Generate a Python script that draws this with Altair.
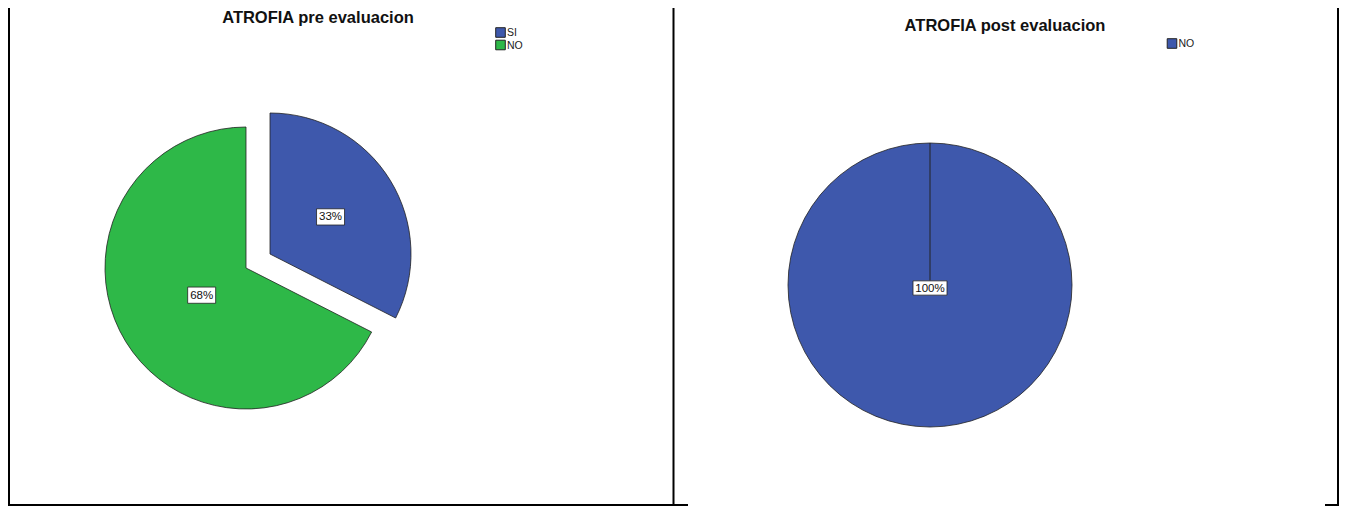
import altair as alt
import pandas as pd

# ---------------- data ----------------
PRE_CATS = ["SI", "NO"]
PRE_COUNTS = [13, 27]
PRE_LABELS = ["33%", "68%"]
PRE_COLORS = ["#3E58AC", "#2EB848"]

POST_CATS = ["NO"]
POST_COUNTS = [40]
POST_LABELS = ["100%"]
POST_COLORS = ["#3E58AC"]

TITLES = ["ATROFIA pre evaluacion", "ATROFIA post evaluacion"]

# ---------------- layout / style ----------------
W, H = 1331, 498
PRE_CX, PRE_CY, PRE_R = 238, 260, 141
EXP_DX, EXP_DY = 24, -14
POST_CX, POST_CY, POST_R = 922, 277, 142
PRE_LEG = (492.5, 24.5)
POST_LEG = (1164, 35.5)
LEG_STEP = 12.5
FONT = "Liberation Sans"
EDGE = "#222222"
BOX_SMALL = "M-1,-0.58L1,-0.58L1,0.58L-1,0.58Z"
BOX_WIDE = "M-1,-0.42L1,-0.42L1,0.42L-1,0.42Z"

pre_df = pd.DataFrame({"cat": PRE_CATS, "count": PRE_COUNTS,
                       "label": PRE_LABELS, "order": list(range(len(PRE_CATS)))})
post_df = pd.DataFrame({"cat": POST_CATS, "count": POST_COUNTS,
                        "label": POST_LABELS, "order": list(range(len(POST_CATS)))})
one = pd.DataFrame({"k": [0]})

theta_scale = alt.Scale(domain=[0, 1], range=[0, 6.283185307179586])


def slices(df):
    return (alt.Chart(df)
            .transform_joinaggregate(total="sum(count)")
            .transform_window(cum="sum(count)", sort=[alt.SortField("order")], frame=[None, 0])
            .transform_calculate(f0="(datum.cum - datum.count) / datum.total",
                                 f1="datum.cum / datum.total",
                                 fm="(datum.cum - datum.count / 2) / datum.total"))


pre_color = alt.Color("cat:N", scale=alt.Scale(domain=PRE_CATS, range=PRE_COLORS), legend=None)
post_color = alt.Color("cat:N", scale=alt.Scale(domain=POST_CATS, range=POST_COLORS), legend=None)


def arc_layer(df, cat, cx, cy, r, color):
    return (slices(df).transform_filter(alt.datum.cat == cat)
            .mark_arc(radius=r, stroke=EDGE, strokeWidth=0.8)
            .encode(theta=alt.Theta("f0:Q", scale=theta_scale), theta2="f1:Q",
                    color=color, x=alt.value(cx), y=alt.value(cy)))


def label_layers(df, cat, cx, cy, rr, shape, size):
    base = (slices(df).transform_filter(alt.datum.cat == cat)
            .transform_calculate(lx=f"{cx} + {rr} * sin(2 * PI * datum.fm)",
                                 ly=f"{cy} - {rr} * cos(2 * PI * datum.fm)"))
    enc = dict(x=alt.X("lx:Q", scale=None, axis=None), y=alt.Y("ly:Q", scale=None, axis=None))
    box = base.mark_point(shape=shape, size=size, filled=True, fill="white",
                          stroke=EDGE, strokeWidth=0.8, opacity=1).encode(**enc)
    txt = base.mark_text(font=FONT, fontSize=11.5, color="#111111",
                         align="center", baseline="middle", dy=0.5).encode(text="label:N", **enc)
    return [box, txt]


def legend_layers(df, cats, pos, color):
    out = []
    for i, c in enumerate(cats):
        base = alt.Chart(df).transform_filter(alt.datum.cat == c)
        out.append(base.mark_point(shape="square", size=92, filled=True, opacity=1,
                                   stroke=EDGE, strokeWidth=1).encode(
            x=alt.value(pos[0]), y=alt.value(pos[1] + i * LEG_STEP), color=color))
        out.append(base.mark_text(font=FONT, fontSize=10.5, color="#222222",
                                  align="left", baseline="middle", dy=0.5).encode(
            x=alt.value(pos[0] + 6.5), y=alt.value(pos[1] + i * LEG_STEP), text="cat:N"))
    return out


left = alt.layer(
    arc_layer(pre_df, "NO", PRE_CX, PRE_CY, PRE_R, pre_color),
    arc_layer(pre_df, "SI", PRE_CX + EXP_DX, PRE_CY + EXP_DY, PRE_R, pre_color),
    *label_layers(pre_df, "SI", PRE_CX + EXP_DX, PRE_CY + EXP_DY, 71, BOX_SMALL, 784),
    *label_layers(pre_df, "NO", PRE_CX, PRE_CY, 52, BOX_SMALL, 784),
    *legend_layers(pre_df, PRE_CATS, PRE_LEG, pre_color),
)

right = alt.layer(
    arc_layer(post_df, "NO", POST_CX, POST_CY, POST_R, post_color),
    alt.Chart(one).mark_rule(stroke=EDGE, strokeWidth=1).encode(
        x=alt.value(POST_CX), y=alt.value(POST_CY - POST_R), y2=alt.value(POST_CY)),
    *label_layers(post_df, "NO", POST_CX, POST_CY, 3, BOX_WIDE, 1156),
    *legend_layers(post_df, POST_CATS, POST_LEG, post_color),
)


def title(text, x, y):
    return alt.Chart(one).mark_text(font=FONT, fontSize=16.5, fontWeight="bold", color="#111111",
                                    align="center", baseline="alphabetic").encode(
        x=alt.value(x), y=alt.value(y), text=alt.value(text))


def rule(x, y, x2, y2):
    return alt.Chart(one).mark_rule(stroke="#000000", strokeWidth=2).encode(
        x=alt.value(x), y=alt.value(y), x2=alt.value(x2), y2=alt.value(y2))


decor = [
    title(TITLES[0], 310, 15),
    title(TITLES[1], 997, 23),
    rule(1, 0, 1, H),
    rule(665.5, 0, 665.5, H),
    rule(W - 1, 0, W - 1, H),
    rule(0, H - 1, 680, H - 1),
    rule(1317, H - 1, W, H - 1),
]

chart = (alt.layer(left, right, *decor)
         .resolve_scale(color="independent")
         .properties(width=W, height=H, autosize=alt.AutoSizeParams(type="none"), padding=0)
         .configure_view(stroke=None))

chart.save("out.html", embed_options={"renderer": "svg", "actions": False})
